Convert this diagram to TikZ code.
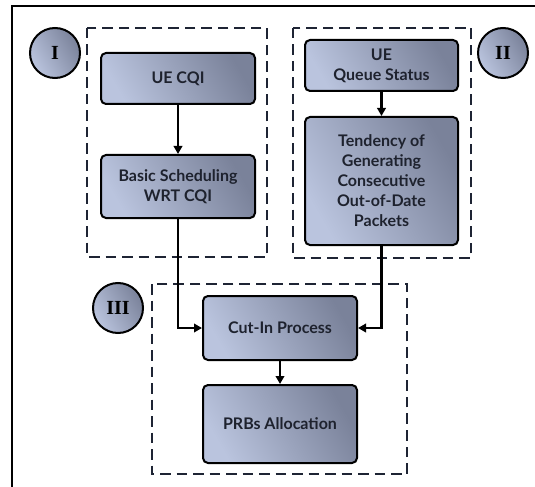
\documentclass[tikz,border=0pt]{standalone}
\usepackage{fontspec}
\setmainfont{Lato}
\newfontfamily\numeralfont{Liberation Serif}
\usetikzlibrary{arrows.meta,positioning}

\definecolor{boxlight}{RGB}{186,196,222}
\definecolor{boxdark}{RGB}{122,130,154}
\definecolor{boxtext}{RGB}{30,34,46}
\definecolor{dashcol}{RGB}{30,36,52}

\tikzset{
  procbox/.style={draw=black, line width=2bp, rounded corners=5bp,
    left color=boxlight, right color=boxdark, shading angle=120,
    text=boxtext, align=center, inner sep=0pt,
    font=\bfseries\fontsize{16bp}{20bp}\selectfont},
  stagecircle/.style={circle, draw=black, line width=2bp,
    left color=boxlight, right color=boxdark, shading angle=120,
    inner sep=0pt, minimum size=50bp, text=black,
    font=\numeralfont\bfseries\fontsize{20bp}{20bp}\selectfont},
  groupbox/.style={draw=dashcol, line width=2bp,
    dash pattern=on 10.5bp off 6bp},
  flow/.style={draw=black, line width=2.6bp,
    -{Triangle[length=8bp,width=8.5bp]}},
  frame/.style={draw=black, line width=2.4bp}
}

\begin{document}
\begin{tikzpicture}[x=1bp,y=-1bp]
\useasboundingbox (0,0) rectangle (535,487);

% outer frame (top and left edges)
\draw[frame] (12,487) -- (12,6) -- (535,6);

% dashed groups
\draw[groupbox] (87,28) rectangle (267,257);
\draw[groupbox] (293,28) rectangle (471,258);
\draw[groupbox] (152,284) rectangle (407,474);

% stage markers
\node[stagecircle] (s1) at (55,53) {I};
\node[stagecircle] (s2) at (503,53) {II};
\node[stagecircle] (s3) at (118,308) {III};

% process boxes
\node[procbox, minimum width=154bp, minimum height=51bp] (cqi) at (178,78.5) {UE CQI};
\node[procbox, minimum width=154bp, minimum height=63bp] (basic) at (178,186.5) {Basic Scheduling\\WRT CQI};
\node[procbox, minimum width=153bp, minimum height=51bp] (queue) at (381.5,65.5) {UE\\Queue Status};
\node[procbox, minimum width=153bp, minimum height=128bp] (tend) at (381.5,181) {Tendency of\\Generating\\Consecutive\\Out-of-Date\\Packets};
\node[procbox, minimum width=154bp, minimum height=64bp] (cut) at (280,328) {Cut-In Process};
\node[procbox, minimum width=154bp, minimum height=78bp] (prb) at (280,424) {PRBs Allocation};

% connectors
\draw[flow] (cqi) -- (basic);
\draw[flow] (queue) -- (tend);
\draw[flow] (basic.south) |- (cut.west);
\draw[flow] (tend.south) |- (cut.east);
\draw[flow] (cut) -- (prb);
\end{tikzpicture}
\end{document}
